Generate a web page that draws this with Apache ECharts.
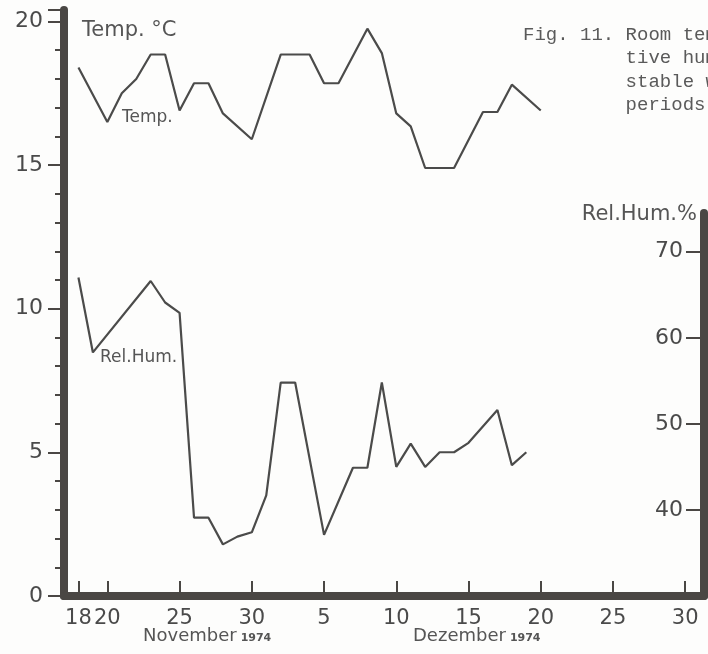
<!DOCTYPE html>
<html>
<head>
<meta charset="utf-8">
<script src="https://cdn.jsdelivr.net/npm/echarts@6/dist/echarts.min.js"></script>
<style>
html,body{margin:0;padding:0;background:#fdfdfc;}
#chart{width:708px;height:654px;}
</style>
</head>
<body>
<div id="chart"></div>
<script>
// Day offsets counted from 18 November 1974 (0 = Nov 18, 12 = Nov 30, 13 = Dec 1)
const tempDays   = [0, 2, 3, 4, 5, 6, 7, 8, 9, 10, 12, 14, 16, 17, 18, 20, 21, 22, 23, 24, 26, 28, 29, 30, 32];
const tempValues = [18.4, 16.5, 17.5, 18.0, 18.85, 18.85, 16.9, 17.85, 17.85, 16.8, 15.9, 18.85, 18.85, 17.85, 17.85, 19.75, 18.9, 16.8, 16.35, 14.9, 14.9, 16.85, 16.85, 17.8, 16.9];

const humDays   = [0, 1, 5, 6, 7, 8, 9, 10, 11, 12, 13, 14, 15, 17, 19, 20, 21, 22, 23, 24, 25, 26, 27, 29, 30, 31];
const humValues = [67.0, 58.3, 66.6, 64.1, 62.9, 39.1, 39.1, 36.0, 36.9, 37.4, 41.7, 54.8, 54.8, 37.1, 44.9, 44.9, 54.8, 45.0, 47.7, 45.0, 46.7, 46.7, 47.8, 51.6, 45.2, 46.7];

const xTickDays   = [0, 2, 7, 12, 17, 22, 27, 32, 37, 42];
const xTickLabels = ['18', '20', '25', '30', '5', '10', '15', '20', '25', '30'];
const tempTicks = [0, 5, 10, 15, 20];
const humTicks  = [40, 50, 60, 70];

const ink = '#4a4744';
const lineInk = '#4b4b4a';
const font = 'DejaVu Sans';

const chart = echarts.init(document.getElementById('chart'));
chart.setOption({
  backgroundColor: '#fdfdfc',
  animation: false,
  grid: [
    {left: 64, right: 4, top: 10, bottom: 58},
    {left: 64, right: 4, top: 213, bottom: 58}
  ],
  xAxis: [
    {
      type: 'value', gridIndex: 0, min: -1, max: 43.3,
      splitLine: {show: false},
      axisLine: {show: true, onZero: false, lineStyle: {color: ink, width: 8}},
      axisTick: {show: true, inside: true, length: 15, lineStyle: {color: ink, width: 2}, customValues: xTickDays},
      axisLabel: {
        customValues: xTickDays, margin: 12, color: '#4a4a4a', fontFamily: font, fontSize: 21,
        formatter: v => { const i = xTickDays.indexOf(Math.round(v)); return i >= 0 ? xTickLabels[i] : ''; }
      }
    },
    {type: 'value', gridIndex: 1, min: -1, max: 43.3, show: false}
  ],
  yAxis: [
    {
      type: 'value', gridIndex: 0, min: 0, max: 20.4, interval: 5,
      splitLine: {show: false},
      axisLine: {show: true, onZero: false, lineStyle: {color: ink, width: 8}},
      axisTick: {show: true, length: 16, lineStyle: {color: ink, width: 2}},
      minorTick: {show: true, splitNumber: 5, length: 9, lineStyle: {color: ink, width: 2}},
      axisLabel: {
        customValues: tempTicks, margin: 21, color: '#4a4a4a', fontFamily: font, fontSize: 22
      }
    },
    {
      type: 'value', gridIndex: 1, position: 'right', min: 30, max: 74.5, interval: 10,
      splitLine: {show: false},
      axisLine: {show: true, onZero: false, lineStyle: {color: ink, width: 8}},
      axisTick: {show: true, inside: true, length: 18, lineStyle: {color: ink, width: 2}, customValues: humTicks},
      axisLabel: {
        inside: true, customValues: humTicks, margin: 21, color: '#4a4a4a', fontFamily: font, fontSize: 22,
        formatter: v => (v >= 40 ? String(v) : '')
      }
    }
  ],
  series: [
    {
      type: 'line', xAxisIndex: 0, yAxisIndex: 0, symbol: 'none',
      lineStyle: {color: lineInk, width: 2.2},
      data: tempDays.map((d, i) => [d, tempValues[i]])
    },
    {
      type: 'line', xAxisIndex: 1, yAxisIndex: 1, symbol: 'none',
      lineStyle: {color: lineInk, width: 2.2},
      data: humDays.map((d, i) => [d, humValues[i]])
    }
  ],
  graphic: [
    {type: 'text', left: 82, top: 20, style: {text: 'Temp. °C', fontFamily: font, fontSize: 21, letterSpacing: 0.5, fill: '#555'}},
    {type: 'text', left: 122, top: 109, style: {text: 'Temp.', fontFamily: font, fontSize: 17, fill: '#555'}},
    {type: 'text', left: 100, top: 349, style: {text: 'Rel.Hum.', fontFamily: font, fontSize: 17, fill: '#555', letterSpacing: -0.5}},
    {type: 'text', right: 11, top: 204, style: {text: 'Rel.Hum.%', fontFamily: font, fontSize: 21, letterSpacing: 1, fill: '#555'}},
    {type: 'text', left: 143, top: 627, style: {
      text: 'November{s|1974}', fontFamily: font, fontSize: 18, letterSpacing: 1.5, fill: '#555',
      rich: {s: {fontFamily: font, fontSize: 11, fontWeight: 'bold', fill: '#555', padding: [5, 0, 0, 4]}}
    }},
    {type: 'text', left: 413, top: 627, style: {
      text: 'Dezember{s|1974}', fontFamily: font, fontSize: 18, letterSpacing: 1.5, fill: '#555',
      rich: {s: {fontFamily: font, fontSize: 11, fontWeight: 'bold', fill: '#555', padding: [5, 0, 0, 4]}}
    }},
    {type: 'text', left: 523, top: 23, style: {
      text: 'Fig. 11. Room temperature and rela-\n         tive humidity during\n         stable weather\n         periods',
      fontFamily: 'Liberation Mono', fontSize: 19, lineHeight: 23.5, fill: '#5a5a5a'
    }}
  ]
});
</script>
</body>
</html>
